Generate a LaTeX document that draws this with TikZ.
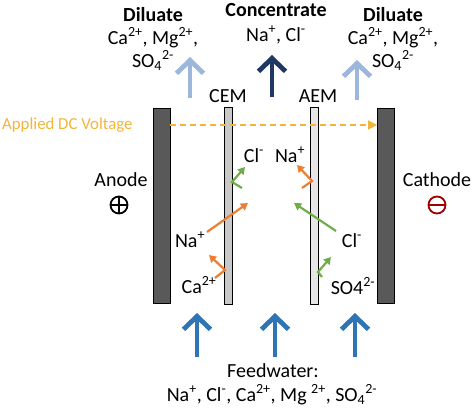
\documentclass[tikz,border=0pt]{standalone}
\usepackage{fontspec}
\setmainfont{Carlito}
\usepackage{tikz}
\usetikzlibrary{arrows.meta,positioning,calc}
\usepackage{xcolor}
\definecolor{elecgray}{HTML}{595959}
\definecolor{cemgray}{HTML}{C8C8C8}
\definecolor{aemgray}{HTML}{E6E6E6}
\definecolor{ionorange}{HTML}{ED7D31}
\definecolor{iongreen}{HTML}{70AD47}
\definecolor{feedblue}{HTML}{2E75B6}
\definecolor{dilblue}{HTML}{9DB7DC}
\definecolor{concnavy}{HTML}{1F3864}
\definecolor{dcgold}{HTML}{F2B53A}
\definecolor{minusred}{HTML}{A00000}

\begin{document}
\begin{tikzpicture}[
    x=1pt, y=-1pt,
    every node/.style={font=\fontsize{20}{23}\selectfont, inner sep=0pt},
    electrode/.style={
        rectangle,
        draw=black,
        fill=elecgray,
        line width=0.8pt,
        minimum width=17pt,
        minimum height=195pt
    },
    membrane/.style={
        rectangle,
        draw=black,
        line width=0.8pt,
        minimum width=8pt,
        minimum height=197pt
    },
    flow/.style={
        line width=4.8pt,
        -{Straight Barb[length=13pt, width=27pt]}
    },
    ionarrow/.style={
        line width=2.2pt,
        -{Triangle[length=7pt, width=8pt]}
    },
    sign/.style={
        circle,
        draw,
        line width=1.8pt,
        minimum size=17pt
    },
    label/.style={anchor=base, align=center}
]
\useasboundingbox (0,0) rectangle (474,408);

% Electrodes and membranes
\node[electrode] (anode) at (161.5, 205.5) {};
\node[electrode] (cathode) at (386, 205.5) {};
\node[membrane, fill=cemgray] (cem) at (228, 205.5) {};
\node[membrane, fill=aemgray] (aem) at (314.5, 205.5) {};

\node[label] (cem-lbl) at (228, 102) {CEM};
\node[label] (aem-lbl) at (318, 102) {AEM};

% Electrode labels and signs
\node[label] (anode-lbl) at (121, 186) {Anode};
\node[label] (cathode-lbl) at (437, 186) {Cathode};
\node[sign, path picture={
    \draw[line width=1.8pt] (path picture bounding box.north) -- (path picture bounding box.south);
    \draw[line width=1.8pt] (path picture bounding box.west) -- (path picture bounding box.east);
}] (plus) at (119, 205) {};
\node[sign, draw=minusred, path picture={
    \draw[line width=1.8pt, minusred] (path picture bounding box.west) -- (path picture bounding box.east);
}] (minus) at (437, 205) {};

% Applied voltage
\coordinate (dc) at (0, 125);
\node[anchor=base west, text=dcgold, font=\fontsize{16.8}{19}\selectfont] (dc-lbl) at (2, 129.5) {Applied DC Voltage};
\draw[dcgold, line width=1.6pt, dash pattern=on 6pt off 4pt, -{Triangle[length=9pt, width=9pt]}]
    (anode.east |- dc) -- (cathode.west |- dc);

% Outlet streams (base = last line)
\node[label] (dil-left) at (153, 67) {\textbf{Diluate}\\Ca\textsuperscript{2+}, Mg\textsuperscript{2+},\\SO\textsubscript{4}\textsuperscript{2-}};
\node[label, font=\fontsize{20}{25}\selectfont] (conc) at (276, 41) {\textbf{Concentrate}\\Na\textsuperscript{+}, Cl\textsuperscript{-}};
\node[label] (dil-right) at (393, 67) {\textbf{Diluate}\\Ca\textsuperscript{2+}, Mg\textsuperscript{2+},\\SO\textsubscript{4}\textsuperscript{2-}};

\draw[flow, dilblue] (190, 98) -- (190, 57);
\draw[flow, concnavy] (272, 97) -- (272, 55);
\draw[flow, dilblue] (357, 100) -- (357, 60);

% Feed streams
\draw[flow, feedblue] (197, 357) -- (197, 313);
\draw[flow, feedblue] (275, 357) -- (275, 313);
\draw[flow, feedblue] (355, 357) -- (355, 313);
\node[label] (feed) at (273, 377) {Feedwater:};
\node[label] (feed-ions) at (272, 401) {Na\textsuperscript{+}, Cl\textsuperscript{-}, Ca\textsuperscript{2+}, Mg \textsuperscript{2+}, SO\textsubscript{4}\textsuperscript{2-}};

% Ions
\node[label] (na-left) at (190, 247) {Na\textsuperscript{+}};
\node[label] (ca) at (199, 293) {Ca\textsuperscript{2+}};
\node[label] (cl-left) at (254, 162) {Cl\textsuperscript{-}};
\node[label] (na-right) at (290, 162) {Na\textsuperscript{+}};
\node[label] (cl-right) at (352, 247) {Cl\textsuperscript{-}};
\node[label] (so4) at (353, 294) {SO4\textsuperscript{2-}};

\draw[ionarrow, ionorange] (207, 232) -- (248, 203);
\draw[ionarrow, ionorange] (215, 278) -- (225, 270) -- (209, 255);
\draw[ionarrow, iongreen] (242, 188) -- (232, 182) -- (245, 167);
\draw[ionarrow, ionorange] (302, 188) -- (312, 181) -- (297, 165);
\draw[ionarrow, iongreen] (336, 231) -- (294, 203);
\draw[ionarrow, iongreen] (322, 277) -- (318, 272) -- (331, 257);

\end{tikzpicture}
\end{document}
